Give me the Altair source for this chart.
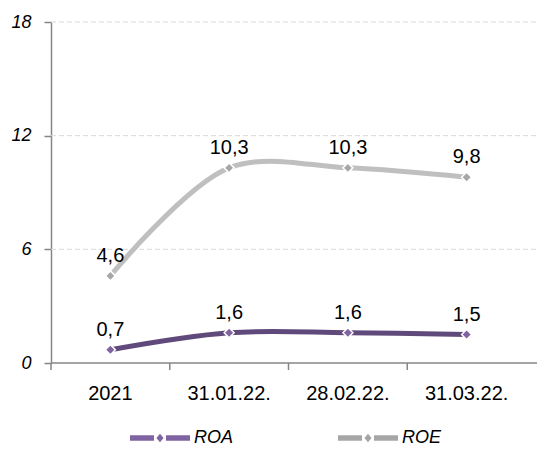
import altair as alt
import pandas as pd

categories = ["2021", "31.01.22.", "28.02.22.", "31.03.22."]
roa = [0.7, 1.6, 1.6, 1.5]
roe = [4.6, 10.3, 10.3, 9.8]
series_names = ["ROA", "ROE"]
line_colors = ["#604A7B", "#BFBFBF"]
marker_colors = ["#8064A2", "#A6A6A6"]
y_ticks = [0, 6, 12, 18]
grid_values = [6, 12, 18]

rows = []
for name, vals in zip(series_names, [roa, roe]):
    for c, v in zip(categories, vals):
        rows.append({"cat": c, "series": name, "value": v,
                     "label": f"{v:.1f}".replace(".", ",")})
df = pd.DataFrame(rows)

W, H = 475, 341
FULL_W = 494
FONT = "Liberation Sans"

yscale = alt.Scale(domain=[0, 18], nice=False)
xscale = alt.Scale(type="band", paddingInner=0, paddingOuter=0)

x_axis = alt.Axis(title=None, domain=False, ticks=False, labelAngle=0,
                  labelPadding=20, labelFontSize=20, labelColor="#000000",
                  labelFont=FONT, grid=False)
y_axis = alt.Axis(values=y_ticks, grid=False, title=None,
                  labelFontStyle="italic", labelFontSize=18,
                  labelFont=FONT, labelColor="#000000",
                  tickSize=7, tickColor="#868686", tickWidth=1.5,
                  domainColor="#868686", domainWidth=1.5, labelPadding=13)

X = lambda **kw: alt.X("cat:N", sort=categories, scale=xscale, axis=x_axis, **kw)
Y = lambda f="value:Q": alt.Y(f, scale=yscale, axis=y_axis)

grid = alt.Chart(pd.DataFrame({"value": grid_values})).mark_rule(
    color="#D9D9D9", strokeDash=[5, 3], strokeWidth=1
).encode(y=Y(), x=alt.value(0), x2=alt.value(FULL_W))

xline = alt.Chart(pd.DataFrame({"value": [0]})).mark_rule(
    color="#868686", strokeWidth=1.5
).encode(y=Y(), x=alt.value(0), x2=alt.value(FULL_W))

ticks = alt.Chart(pd.DataFrame({"cat": categories})).mark_rule(
    color="#868686", strokeWidth=1.5
).encode(
    x=X(bandPosition=0),
    y=alt.value(H), y2=alt.value(H + 7),
)

legend_path = ("M-1,-0.09H-0.2V0.09H-1Z M0.2,-0.09H1V0.09H0.2Z "
               "M0,-0.14L0.12,0L0,0.14L-0.12,0Z")

lines = alt.Chart(df).mark_line(interpolate="catmull-rom", strokeWidth=5).encode(
    x=X(),
    y=Y(),
    color=alt.Color("series:N", sort=series_names,
                    scale=alt.Scale(domain=series_names, range=line_colors),
                    legend=alt.Legend(orient="none", legendX=79, legendY=386,
                                      direction="horizontal", title=None,
                                      symbolType=legend_path, symbolSize=3600,
                                      symbolStrokeWidth=0, symbolFillColor="#604A7B",
                                      labelFontSize=18, labelFontStyle="italic",
                                      labelFont=FONT, labelColor="#000000",
                                      columnPadding=104, labelOffset=4)),
    detail="series:N",
)

points = alt.Chart(df).mark_point(shape="diamond", filled=True, size=100,
                                   stroke="white", strokeWidth=1.5, opacity=1).encode(
    x=X(),
    y=Y(),
    fill=alt.Fill("series:N", scale=alt.Scale(domain=series_names, range=marker_colors),
                  legend=None),
)

texts = alt.Chart(df).mark_text(fontSize=20, dy=-14, baseline="alphabetic",
                                 font=FONT, color="#000000").encode(
    x=X(),
    y=Y(),
    text="label:N",
)

chart = alt.layer(grid, xline, ticks, lines, points, texts).properties(
    width=W, height=H,
    background="white",
    autosize=alt.AutoSizeParams(type="none"),
    padding={"left": 43, "top": 14, "right": 11, "bottom": 83},
).configure_view(stroke=None)

chart.save("out.html", embed_options={"renderer": "svg", "actions": False})
